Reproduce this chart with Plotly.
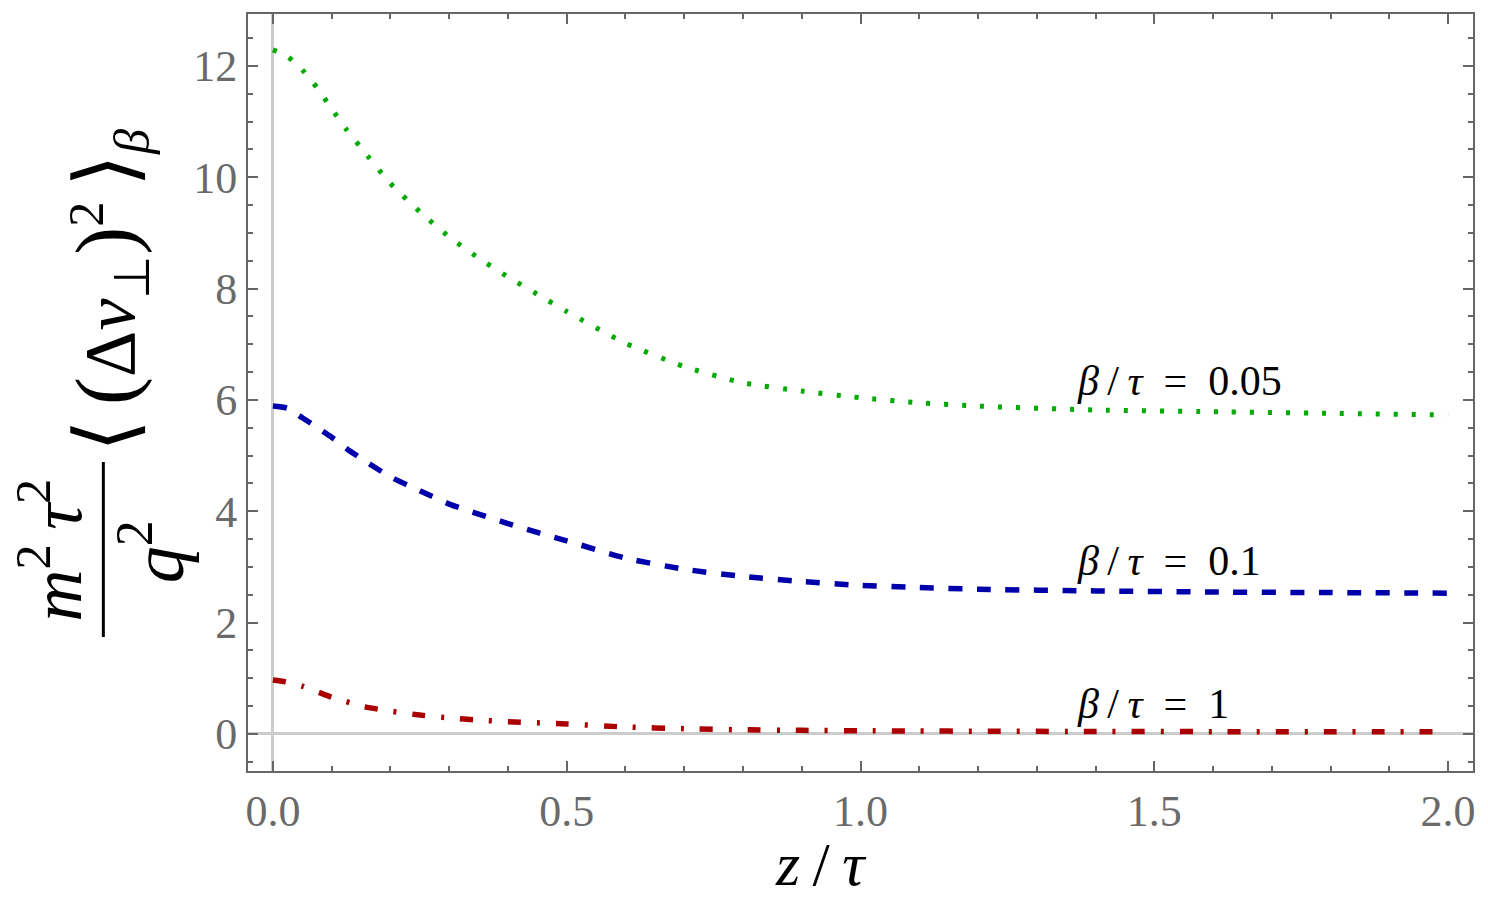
import plotly.graph_objects as go

# ---------------- data ----------------
z_vals = [0, 0.025, 0.05, 0.075, 0.1, 0.125, 0.15, 0.2, 0.25, 0.3, 0.35, 0.4,
          0.45, 0.5, 0.6, 0.7, 0.8, 0.9, 1.0, 1.1, 1.2, 1.4, 1.6, 1.8, 2.0]

green_005 = [12.29, 12.17, 11.93, 11.61, 11.23, 10.86, 10.53, 9.89, 9.38, 8.93,
             8.55, 8.21, 7.90, 7.59, 7.02, 6.60, 6.31, 6.16, 6.04, 5.95, 5.89,
             5.82, 5.79, 5.76, 5.73]

blue_01 = [5.89, 5.85, 5.68, 5.51, 5.33, 5.13, 4.95, 4.62, 4.37, 4.13, 3.95,
           3.78, 3.62, 3.47, 3.16, 2.96, 2.83, 2.74, 2.67, 2.63, 2.60, 2.57,
           2.55, 2.54, 2.53]

red_1 = [0.97, 0.93, 0.86, 0.76, 0.66, 0.58, 0.50, 0.41, 0.34, 0.29, 0.25, 0.22,
         0.20, 0.18, 0.125, 0.095, 0.075, 0.065, 0.058, 0.053, 0.05, 0.045,
         0.042, 0.04, 0.038]

curve_labels = ["<i>β</i>\u2009/\u2009<i>τ</i>\u2002=\u20020.05",
                "<i>β</i>\u2009/\u2009<i>τ</i>\u2002=\u20020.1",
                "<i>β</i>\u2009/\u2009<i>τ</i>\u2002=\u20021"]
label_x = [1.365, 1.365, 1.365]
label_y = [6.34, 3.10, 0.53]

x_tickvals = [0.0, 0.5, 1.0, 1.5, 2.0]
x_ticktext = ["0.0", "0.5", "1.0", "1.5", "2.0"]
y_tickvals = [0, 2, 4, 6, 8, 10, 12]
y_ticktext = ["0", "2", "4", "6", "8", "10", "12"]

# ---------------- layout geometry ----------------
W, H = 1488, 906
L, R, T, B = 248, 12, 14, 135
PW, PH = W - L - R, H - T - B


def px_x(px):
    return (px - L) / PW


def px_y(py):
    return (H - B - py) / PH


SERIF = "Liberation Serif"
GRAY = "#6a6a6a"

fig = go.Figure()

fig.add_trace(go.Scatter(
    x=z_vals, y=green_005, mode="lines",
    line=dict(color="#00aa00", width=5, dash="4px,14px", shape="spline", smoothing=0.6),
    showlegend=False, hoverinfo="skip"))
fig.add_trace(go.Scatter(
    x=z_vals, y=blue_01, mode="lines",
    line=dict(color="#0000aa", width=5.5, dash="14px,14.5px", shape="spline", smoothing=0.6),
    showlegend=False, hoverinfo="skip"))
fig.add_trace(go.Scatter(
    x=z_vals, y=red_1, mode="lines",
    line=dict(color="#aa0000", width=5.5, dash="13px,16px,3px,16px", shape="spline", smoothing=0.6),
    showlegend=False, hoverinfo="skip"))

for txt, lx, ly in zip(curve_labels, label_x, label_y):
    fig.add_annotation(x=lx, y=ly, xref="x", yref="y", text=txt, showarrow=False,
                       xanchor="left", yanchor="middle",
                       font=dict(family=SERIF, size=42, color="black"))

axis_common = dict(
    showgrid=False, showline=True, linecolor="#666666", linewidth=2, mirror="ticks",
    ticks="inside", ticklen=10, tickwidth=1.5, tickcolor="#666666",
    tickfont=dict(family=SERIF, size=44, color=GRAY),
    zeroline=True, zerolinecolor="#cccccc", zerolinewidth=3,
)

fig.update_xaxes(range=[-0.0424, 2.0424], tickvals=x_tickvals, ticktext=x_ticktext,
                 minor=dict(ticks="inside", ticklen=5, tickwidth=1.5, tickcolor="#666666",
                            dtick=0.1, tick0=0, showgrid=False),
                 **axis_common)
fig.update_yaxes(range=[-0.665, 12.934], tickvals=y_tickvals, ticktext=y_ticktext,
                 minor=dict(ticks="inside", ticklen=5, tickwidth=1.5, tickcolor="#666666",
                            dtick=0.5, tick0=0, showgrid=False),
                 **axis_common)

# x-axis title
fig.add_annotation(x=px_x(822), y=px_y(864), xref="paper", yref="paper",
                   text="<i>z</i>\u2009/\u2009<i>τ</i>", showarrow=False,
                   xanchor="center", yanchor="middle",
                   font=dict(family=SERIF, size=62, color="black"))

# y-axis title: fraction m²τ²/q² followed by ⟨(Δv⊥)²⟩β
fig.add_annotation(x=px_x(50), y=px_y(550), xref="paper", yref="paper",
                   text="<i>m</i><sup>2</sup>\u2009<i>τ</i><sup>2</sup>", showarrow=False,
                   textangle=-90, xanchor="center", yanchor="middle",
                   font=dict(family=SERIF, size=72, color="black"))
fig.add_annotation(x=px_x(152), y=px_y(552), xref="paper", yref="paper",
                   text="<i>q</i><sup>2</sup>", showarrow=False,
                   textangle=-90, xanchor="center", yanchor="middle",
                   font=dict(family=SERIF, size=74, color="black"))
fig.add_shape(type="line", xref="paper", yref="paper",
              x0=px_x(103), x1=px_x(103), y0=px_y(462), y1=px_y(637),
              line=dict(color="black", width=3))
fig.add_annotation(x=px_x(108), y=px_y(290), xref="paper", yref="paper",
                   text=("<span style='font-size:84px'>⟨</span>\u2009"
                         "<span style='font-size:84px'>(</span>Δ<i>v</i><sub>⊥</sub>"
                         "<span style='font-size:84px'>)</span><sup>2</sup>\u2009"
                         "<span style='font-size:84px'>⟩</span><sub><i>β</i></sub>"),
                   showarrow=False, textangle=-90, xanchor="center", yanchor="middle",
                   font=dict(family=SERIF, size=72, color="black"))

fig.update_layout(
    width=W, height=H,
    margin=dict(l=L, r=R, t=T, b=B),
    paper_bgcolor="white", plot_bgcolor="white",
)

fig.write_html("out.html")
